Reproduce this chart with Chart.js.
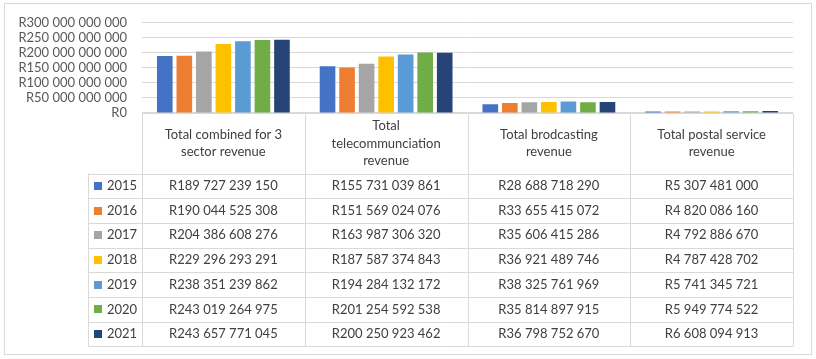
<!DOCTYPE html>
<html>
<head>
<meta charset="utf-8">
<script src="https://cdn.jsdelivr.net/npm/chart.js@4"></script>
<style>
  html, body { margin: 0; padding: 0; background: #ffffff; }
  #wrap { width: 816px; height: 359px; }
</style>
</head>
<body>
<div id="wrap"><canvas id="c" width="816" height="359"></canvas></div>
<script>
const categories = [
  ["Total combined for 3", "sector revenue"],
  ["Total", "telecommunciation", "revenue"],
  ["Total brodcasting", "revenue"],
  ["Total postal service", "revenue"]
];
const years = ["2015", "2016", "2017", "2018", "2019", "2020", "2021"];
const v2015 = [189727239150, 155731039861, 28688718290, 5307481000];
const v2016 = [190044525308, 151569024076, 33655415072, 4820086160];
const v2017 = [204386608276, 163987306320, 35606415286, 4792886670];
const v2018 = [229296293291, 187587374843, 36921489746, 4787428702];
const v2019 = [238351239862, 194284132172, 38325761969, 5741345721];
const v2020 = [243019264975, 201254592538, 35814897915, 5949774522];
const v2021 = [243657771045, 200250923462, 36798752670, 6608094913];
const seriesValues = [v2015, v2016, v2017, v2018, v2019, v2020, v2021];
const colors = ["#4472C4", "#ED7D31", "#A5A5A5", "#FFC000", "#5B9BD5", "#70AD47", "#264478"];
const yTicks = { min: 0, max: 300000000000, step: 50000000000 };

const FONT = "Lato, 'Open Sans', sans-serif";

function fmtR(v) {
  const s = Math.round(v).toString().replace(/\B(?=(\d{3})+(?!\d))/g, " ");
  return "R" + s;
}

const tablePlugin = {
  id: "dataTable",
  beforeDraw(chart) {
    const ctx = chart.ctx;
    ctx.save();
    ctx.fillStyle = "#ffffff";
    ctx.fillRect(0, 0, chart.width, chart.height);
    ctx.strokeStyle = "#d9d9d9";
    ctx.lineWidth = 1;
    ctx.strokeRect(4.5, 3.5, 807, 351);
    ctx.restore();
  },
  afterDraw(chart) {
    const ctx = chart.ctx;
    const x = chart.scales.x;
    const area = chart.chartArea;
    const n = chart.data.labels.length;
    const colW = (x.right - x.left) / n;
    const top = Math.round(area.bottom) + 0.5;
    const headerH = 60;
    const rowH = 24.7;
    const legendLeft = 88.5;
    const nRows = chart.data.datasets.length;
    const bottom = top + headerH + rowH * nRows;

    ctx.save();
    ctx.strokeStyle = "#d9d9d9";
    ctx.lineWidth = 1;
    ctx.beginPath();
    ctx.moveTo(x.left, top); ctx.lineTo(x.right, top);
    for (let i = 0; i <= n; i++) {
      const cx = Math.round(x.left + i * colW) + 0.5;
      ctx.moveTo(cx, top); ctx.lineTo(cx, bottom);
    }
    ctx.moveTo(legendLeft, top + headerH); ctx.lineTo(legendLeft, bottom);
    for (let r = 0; r <= nRows; r++) {
      const ry = Math.round(top + headerH + r * rowH) + 0.5;
      ctx.moveTo(legendLeft, ry); ctx.lineTo(x.right, ry);
    }
    ctx.stroke();

    ctx.fillStyle = "#404040";
    ctx.font = "13px " + FONT;
    ctx.textAlign = "center";
    ctx.textBaseline = "middle";
    const lh = 17.5;
    chart.data.labels.forEach((lab, i) => {
      const lines = Array.isArray(lab) ? lab : [lab];
      const cx = x.left + (i + 0.5) * colW;
      const cy = top + headerH / 2;
      const start = cy - (lines.length - 1) * lh / 2;
      lines.forEach((ln, k) => ctx.fillText(ln, cx, start + k * lh));
    });

    chart.data.datasets.forEach((ds, r) => {
      const cy = top + headerH + (r + 0.5) * rowH;
      ctx.fillStyle = ds.backgroundColor;
      ctx.fillRect(94, Math.round(cy - 4), 8, 8);
      ctx.fillStyle = "#404040";
      ctx.textAlign = "left";
      ctx.fillText(ds.label, 107, cy);
      ctx.textAlign = "center";
      ds.data.forEach((v, i) => {
        const cx = x.left + (i + 0.5) * colW;
        ctx.fillText(fmtR(v), cx, cy);
      });
    });
    ctx.restore();
  }
};

new Chart(document.getElementById("c"), {
  type: "bar",
  data: {
    labels: categories,
    datasets: years.map((y, i) => ({
      label: y,
      data: seriesValues[i],
      backgroundColor: colors[i],
      borderWidth: 0,
      categoryPercentage: 0.84,
      barPercentage: 0.8
    }))
  },
  options: {
    responsive: false,
    animation: false,
    layout: { padding: { left: 10, right: 23, top: 20, bottom: 246 } },
    plugins: { legend: { display: false }, tooltip: { enabled: false }, title: { display: false } },
    scales: {
      x: { display: false, grid: { display: false } },
      y: {
        min: yTicks.min, max: yTicks.max,
        ticks: {
          stepSize: yTicks.step,
          autoSkip: false,
          color: "#595959",
          font: { family: FONT, size: 13 },
          padding: 15,
          callback: (v) => fmtR(v)
        },
        grid: { color: "#d9d9d9", drawTicks: false },
        border: { display: false },
        afterFit(scale) { scale.width = 132; }
      }
    }
  },
  plugins: [tablePlugin]
});
</script>
</body>
</html>
